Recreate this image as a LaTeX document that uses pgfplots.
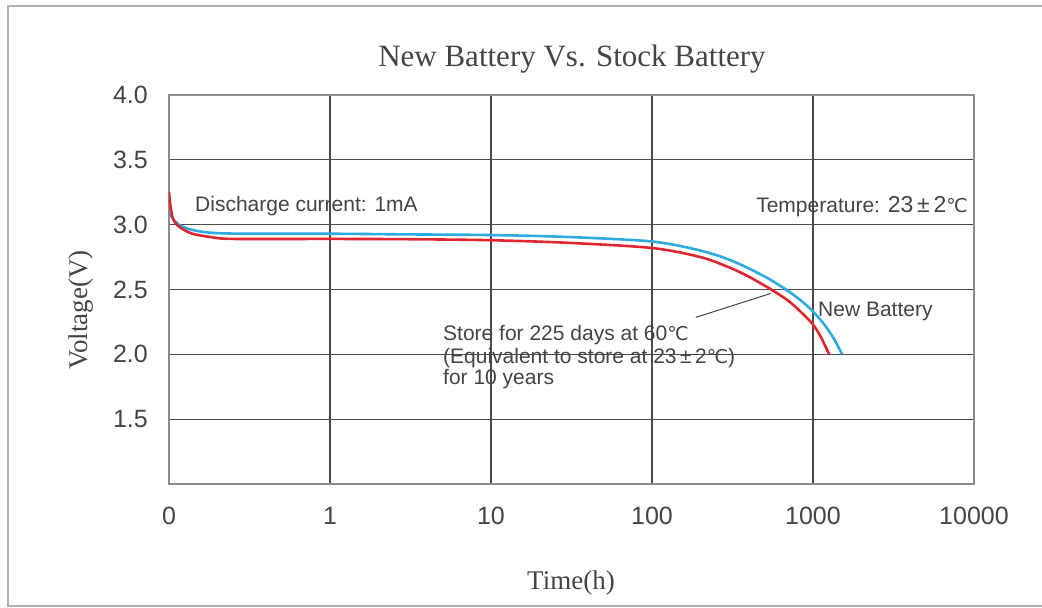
\documentclass[border=0pt]{standalone}
\usepackage{fontspec}
\setmainfont{Liberation Sans}
\newfontfamily\seriffont{Liberation Serif}
\newfontfamily\dejavu{DejaVu Sans}
\usepackage{pgfplots}
\pgfplotsset{compat=1.18}
\definecolor{redc}{HTML}{E0262F}
\definecolor{bluec}{HTML}{2DAAE0}
\definecolor{gridc}{HTML}{4A4A4A}
\definecolor{framec}{HTML}{8C8C8C}
\definecolor{txt}{HTML}{444444}
\newcommand{\degC}{{\dejavu\fontsize{19}{23}\selectfont ℃}}
\begin{document}
\begin{tikzpicture}[x=1pt,y=1pt]
\useasboundingbox (0,0) rectangle (1042,608);
\draw[color=black!30, line width=2pt] (1042,602) -- (8,602) -- (8,2) -- (1042,2);
\begin{axis}[at={(169pt,124pt)}, anchor=south west, scale only axis,
  width=805pt, height=389pt,
  xmode=log, xmin=0.1, xmax=10000, ymin=1, ymax=4,
  xtick={0.1,1,10,100,1000,10000},
  xticklabels={0,1,10,100,1000,10000},
  ytick={1.5,2,2.5,3,3.5,4},
  yticklabels={1.5,2.0,2.5,3.0,3.5,4.0},
  xminorticks=false, yminorticks=false,
  grid=major, major grid style={gridc, line width=1.3pt},
  axis line style={framec, line width=2pt},
  major tick length=0pt, minor tick length=0pt,
  tick label style={font=\fontsize{25}{30}\selectfont, text=txt, inner sep=0pt},
  xticklabel style={anchor=north, yshift=-23pt},
  yticklabel style={anchor=east, xshift=-21pt},
]
\addplot[bluec, line width=2.6pt, smooth, tension=0.5] coordinates {
(0.1,3.10) (0.105,3.05) (0.115,3.00) (0.13,2.97) (0.16,2.945) (0.2,2.935) (0.3,2.93)
(1,2.93) (3,2.925) (10,2.92) (30,2.905) (100,2.87) (200,2.80) (316,2.72)
(501,2.60) (679,2.50) (851,2.41) (1000,2.33) (1175,2.23) (1349,2.12) (1514,2.00)};
\addplot[redc, line width=2.6pt, smooth, tension=0.5] coordinates {
(0.1,3.25) (0.102,3.15) (0.105,3.06) (0.11,3.01) (0.12,2.97) (0.14,2.93) (0.18,2.905)
(0.25,2.89) (1,2.89) (3,2.888) (10,2.88) (30,2.86) (100,2.82) (200,2.75) (302,2.67)
(398,2.60) (550,2.50) (708,2.41) (851,2.32) (1000,2.23) (1122,2.13) (1259,2.00)};
\draw[txt, line width=1pt] (axis cs:187,2.285) -- (axis cs:548,2.47);
\end{axis}
\node[anchor=base, text=txt, font=\seriffont\fontsize{31}{36}\selectfont] at (572,541) {New Battery Vs. Stock Battery};
\node[anchor=base, text=txt, font=\seriffont\fontsize{27}{32}\selectfont] at (571,18) {Time(h)};
\node[rotate=90, text=txt, font=\seriffont\fontsize{27}{32}\selectfont] at (81,298) {Voltage(V)};
\begin{scope}[every node/.style={text=txt, inner sep=0pt, font=\fontsize{21}{25}\selectfont}]
\node[anchor=base west] at (195,396) {Discharge current: 1mA};
\node[anchor=base east] at (968,395) {Temperature: {\fontsize{23}{27}\selectfont 23\,±\,2}\degC};
\node[anchor=base west] at (818,291) {New Battery};
\node[anchor=base west] at (443,267.5) {Store for 225 days at 60\degC};
\node[anchor=base west] at (443,244) {(Equivalent to store at 23\,±\,2\degC)};
\node[anchor=base west] at (443,223) {for 10 years};
\end{scope}
\end{tikzpicture}
\end{document}
